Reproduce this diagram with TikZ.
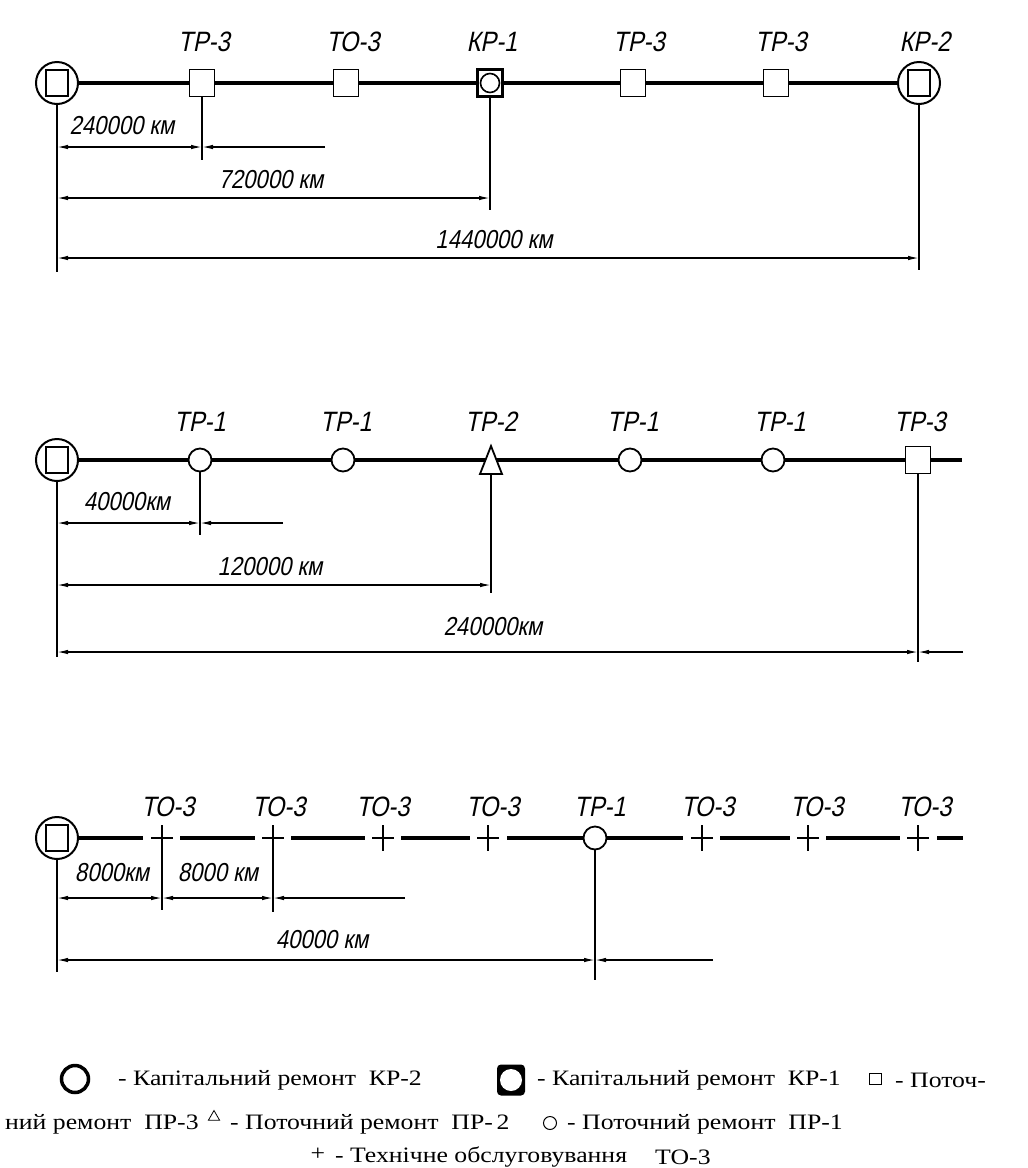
\documentclass[tikz,border=0pt]{standalone}
\usepackage{fontspec}
\setmainfont{Liberation Serif}
\newfontfamily\lblfont[FakeSlant=0.2,FakeStretch=0.85]{Liberation Sans}
\newfontfamily\legfont[FakeStretch=1.17]{Liberation Serif}
\usetikzlibrary{arrows.meta,calc,shapes.geometric}
\begin{document}
\begin{tikzpicture}[x=1pt,y=-1pt,
  mainln/.style={line width=3.4pt},
  extln/.style={line width=1.2pt},
  dimln/.style={line width=1.3pt,{Latex[length=11pt,width=4.5pt]}-{Latex[length=11pt,width=4.5pt]}},
  dimone/.style={line width=1.3pt,-{Latex[length=11pt,width=4.5pt]}},
  krtwo/.style={circle,draw,line width=2pt,minimum size=42pt,inner sep=0pt,
     path picture={\draw[line width=1.6pt] ($(path picture bounding box.center)+(-11,-13)$) rectangle ($(path picture bounding box.center)+(11,13)$);}},
  krone/.style={rectangle,draw,line width=2.4pt,minimum width=25pt,minimum height=27pt,inner sep=0pt,
     path picture={\draw[line width=1.6pt] (path picture bounding box.center) circle[radius=9.5pt];}},
  tpthree/.style={rectangle,draw,line width=1.8pt,minimum width=25pt,minimum height=27pt,inner sep=0pt},
  tpone/.style={circle,draw,line width=1.8pt,minimum size=23pt,inner sep=0pt},
  tptwo/.style={rectangle,minimum width=11pt,minimum height=28pt,inner sep=0pt},
  plusmark/.style={rectangle,minimum width=22pt,minimum height=26pt,inner sep=0pt,
     path picture={\draw[line width=2.6pt] (path picture bounding box.west) -- (path picture bounding box.east)
        (path picture bounding box.north) -- (path picture bounding box.south);}},
  lbl/.style={font=\lblfont\fontsize{28}{30}\selectfont,inner sep=0pt},
  dimtxt/.style={font=\lblfont\fontsize{26}{28}\selectfont,inner sep=0pt},
  leg/.style={font=\legfont\fontsize{22}{24}\selectfont,anchor=west,inner sep=0pt},
]
\useasboundingbox[fill=white] (0,0) rectangle (1028,1168);

%% ---------------- Row 1 ----------------
\node[krtwo]   (a0) at (57,83) {};
\node[tpthree] (a1) at (202,83) {};
\node[tpthree] (a2) at (346,83) {};
\node[krone]   (a3) at (490,83) {};
\node[tpthree] (a4) at (633,83) {};
\node[tpthree] (a5) at (776,83) {};
\node[krtwo]   (a6) at (919,83) {};
\draw[mainln] (a0) -- (a1) -- (a2) -- (a3) -- (a4) -- (a5) -- (a6);

\node[lbl] (la1) at (204,42) {ТР-3};
\node[lbl] (la2) at (353,42) {ТО-3};
\node[lbl] (la3) at (492,42) {КР-1};
\node[lbl] (la4) at (639,42) {ТР-3};
\node[lbl] (la5) at (781,42) {ТР-3};
\node[lbl] (la6) at (925,42) {КР-2};

\coordinate (h11) at (0,147);
\coordinate (h12) at (0,198);
\coordinate (h13) at (0,258);
\coordinate (a0e) at (57,272);
\coordinate (a1e) at (202,160);
\coordinate (a3e) at (490,210);
\coordinate (a6e) at (919,270);
\coordinate (a1x) at (325,147);
\draw[extln] (a0) -- (a0e);
\draw[extln] (a1) -- (a1e);
\draw[extln] (a3) -- (a3e);
\draw[extln] (a6) -- (a6e);
\draw[dimln] (a0 |- h11) -- (a1 |- h11);
\draw[dimone] (a1x) -- (a1 |- h11);
\draw[dimln] (a0 |- h12) -- (a3 |- h12);
\draw[dimln] (a0 |- h13) -- (a6 |- h13);
\node[dimtxt] (da1) at (122,126) {240000 км};
\node[dimtxt] (da2) at (271,180) {720000 км};
\node[dimtxt] (da3) at (494,240) {1440000 км};

%% ---------------- Row 2 ----------------
\node[krtwo]   (b0) at (57,460) {};
\node[tpone]   (b1) at (200,460) {};
\node[tpone]   (b2) at (343,460) {};
\node[tptwo]   (b3) at (491,460) {};
\draw[line width=1.8pt,line join=miter] ($(b3)+(0,-14)$) -- ($(b3)+(11,14)$) -- ($(b3)+(-11,14)$) -- cycle;
\node[tpone]   (b4) at (630,460) {};
\node[tpone]   (b5) at (773,460) {};
\node[tpthree] (b6) at (918,460) {};
\coordinate (b6r) at (962,460);
\draw[mainln] (b0) -- (b1) -- (b2) -- (b3) -- (b4) -- (b5) -- (b6) -- (b6r);

\node[lbl] (lb1) at (200,422) {ТР-1};
\node[lbl] (lb2) at (346,422) {ТР-1};
\node[lbl] (lb3) at (491,422) {ТР-2};
\node[lbl] (lb4) at (633,422) {ТР-1};
\node[lbl] (lb5) at (780,422) {ТР-1};
\node[lbl] (lb6) at (920,422) {ТР-3};

\coordinate (h21) at (0,523);
\coordinate (h22) at (0,585);
\coordinate (h23) at (0,652);
\coordinate (b0e) at (57,657);
\coordinate (b1e) at (200,535);
\coordinate (b3e) at (491,593);
\coordinate (b6e) at (918,662);
\coordinate (b1x) at (283,523);
\coordinate (b6x) at (963,652);
\draw[extln] (b0) -- (b0e);
\draw[extln] (b1) -- (b1e);
\draw[extln] (b3) -- (b3e);
\draw[extln] (b6) -- (b6e);
\draw[dimln] (b0 |- h21) -- (b1 |- h21);
\draw[dimone] (b1x) -- (b1 |- h21);
\draw[dimln] (b0 |- h22) -- (b3 |- h22);
\draw[dimln] (b0 |- h23) -- (b6 |- h23);
\draw[dimone] (b6x) -- (b6 |- h23);
\node[dimtxt] (db1) at (127,502) {40000км};
\node[dimtxt] (db2) at (270,567) {120000 км};
\node[dimtxt] (db3) at (493,627) {240000км};

%% ---------------- Row 3 ----------------
\node[krtwo]    (c0) at (57,838) {};
\node[plusmark] (c1) at (162,838) {};
\node[plusmark] (c2) at (273,838) {};
\node[plusmark] (c3) at (383,838) {};
\node[plusmark] (c4) at (488,838) {};
\node[tpone]    (c5) at (595,838) {};
\node[plusmark] (c6) at (702,838) {};
\node[plusmark] (c7) at (808,838) {};
\node[plusmark] (c8) at (918,838) {};
\coordinate (c8r) at (963,838);
\draw[mainln] (c0) -- ($(c1.west)+(-8,0)$);
\draw[mainln] ($(c1.east)+(7,0)$) -- ($(c2.west)+(-7,0)$);
\draw[mainln] ($(c2.east)+(7,0)$) -- ($(c3.west)+(-7,0)$);
\draw[mainln] ($(c3.east)+(7,0)$) -- ($(c4.west)+(-7,0)$);
\draw[mainln] ($(c4.east)+(8,0)$) -- (c5);
\draw[mainln] (c5) -- ($(c6.west)+(-8,0)$);
\draw[mainln] ($(c6.east)+(7,0)$) -- ($(c7.west)+(-7,0)$);
\draw[mainln] ($(c7.east)+(7,0)$) -- ($(c8.west)+(-7,0)$);
\draw[mainln] ($(c8.east)+(8,0)$) -- (c8r);

\node[lbl] (lc1) at (168,807) {ТО-3};
\node[lbl] (lc2) at (279,807) {ТО-3};
\node[lbl] (lc3) at (383,807) {ТО-3};
\node[lbl] (lc4) at (493,807) {ТО-3};
\node[lbl] (lc5) at (600,807) {ТР-1};
\node[lbl] (lc6) at (708,807) {ТО-3};
\node[lbl] (lc7) at (817,807) {ТО-3};
\node[lbl] (lc8) at (925,807) {ТО-3};

\coordinate (h31) at (0,898);
\coordinate (h32) at (0,960);
\coordinate (c0e) at (57,972);
\coordinate (c1e) at (162,910);
\coordinate (c2e) at (273,912);
\coordinate (c5e) at (595,980);
\coordinate (c2x) at (405,898);
\coordinate (c5x) at (713,960);
\draw[extln] (c0) -- (c0e);
\draw[extln] (c1.south) -- (c1e);
\draw[extln] (c2.south) -- (c2e);
\draw[extln] (c5) -- (c5e);
\draw[dimln] (c0 |- h31) -- (c1 |- h31);
\draw[dimln] (c1 |- h31) -- (c2 |- h31);
\draw[dimone] (c2x) -- (c2 |- h31);
\draw[dimln] (c0 |- h32) -- (c5 |- h32);
\draw[dimone] (c5x) -- (c5 |- h32);
\node[dimtxt] (dc1) at (112,873) {8000км};
\node[dimtxt] (dc2) at (218,873) {8000 км};
\node[dimtxt] (dc3) at (322,940) {40000 км};

%% ---------------- Legend ----------------
\node (k2) [circle,draw,line width=3.5pt,minimum size=27pt,inner sep=0pt] at (75,1079) {};
\node[leg] (l1) at (118,1080) {- Капітальний ремонт\ \ КР-2};
\node (k1) [rectangle,fill=black,rounded corners=4pt,minimum width=28pt,minimum height=31pt,inner sep=0pt,
  path picture={\fill[white] (path picture bounding box.center) circle[radius=11pt];}] at (511,1080) {};
\node[leg] (l2) at (537,1080) {- Капітальний ремонт\ \ КР-1};
\node (sq) [rectangle,draw,line width=1pt,minimum width=12pt,minimum height=11pt,inner sep=0pt] at (875,1079) {};
\node[leg] (l3) at (895,1080) {- Поточ-};

\node[leg] (l4) at (5,1124) {ний ремонт\ \ ПР-3};
\node (tr) [regular polygon,regular polygon sides=3,draw,line width=0.8pt,minimum size=13pt,inner sep=0pt] at (214,1117) {};
\node[leg] (l5) at (230,1124) {- Поточний ремонт\ \ ПР-\,2};
\node (ci) [circle,draw,line width=1pt,minimum size=13pt,inner sep=0pt] at (550,1123) {};
\node[leg] (l6) at (567,1124) {- Поточний ремонт\ \ ПР-1};

\node[leg,anchor=center] (pl) at (318,1154) {+};
\node[leg] (l7) at (335,1157) {- Технічне обслуговування};
\node[leg] (l8) at (655,1157) {ТО-3};
\end{tikzpicture}
\end{document}
